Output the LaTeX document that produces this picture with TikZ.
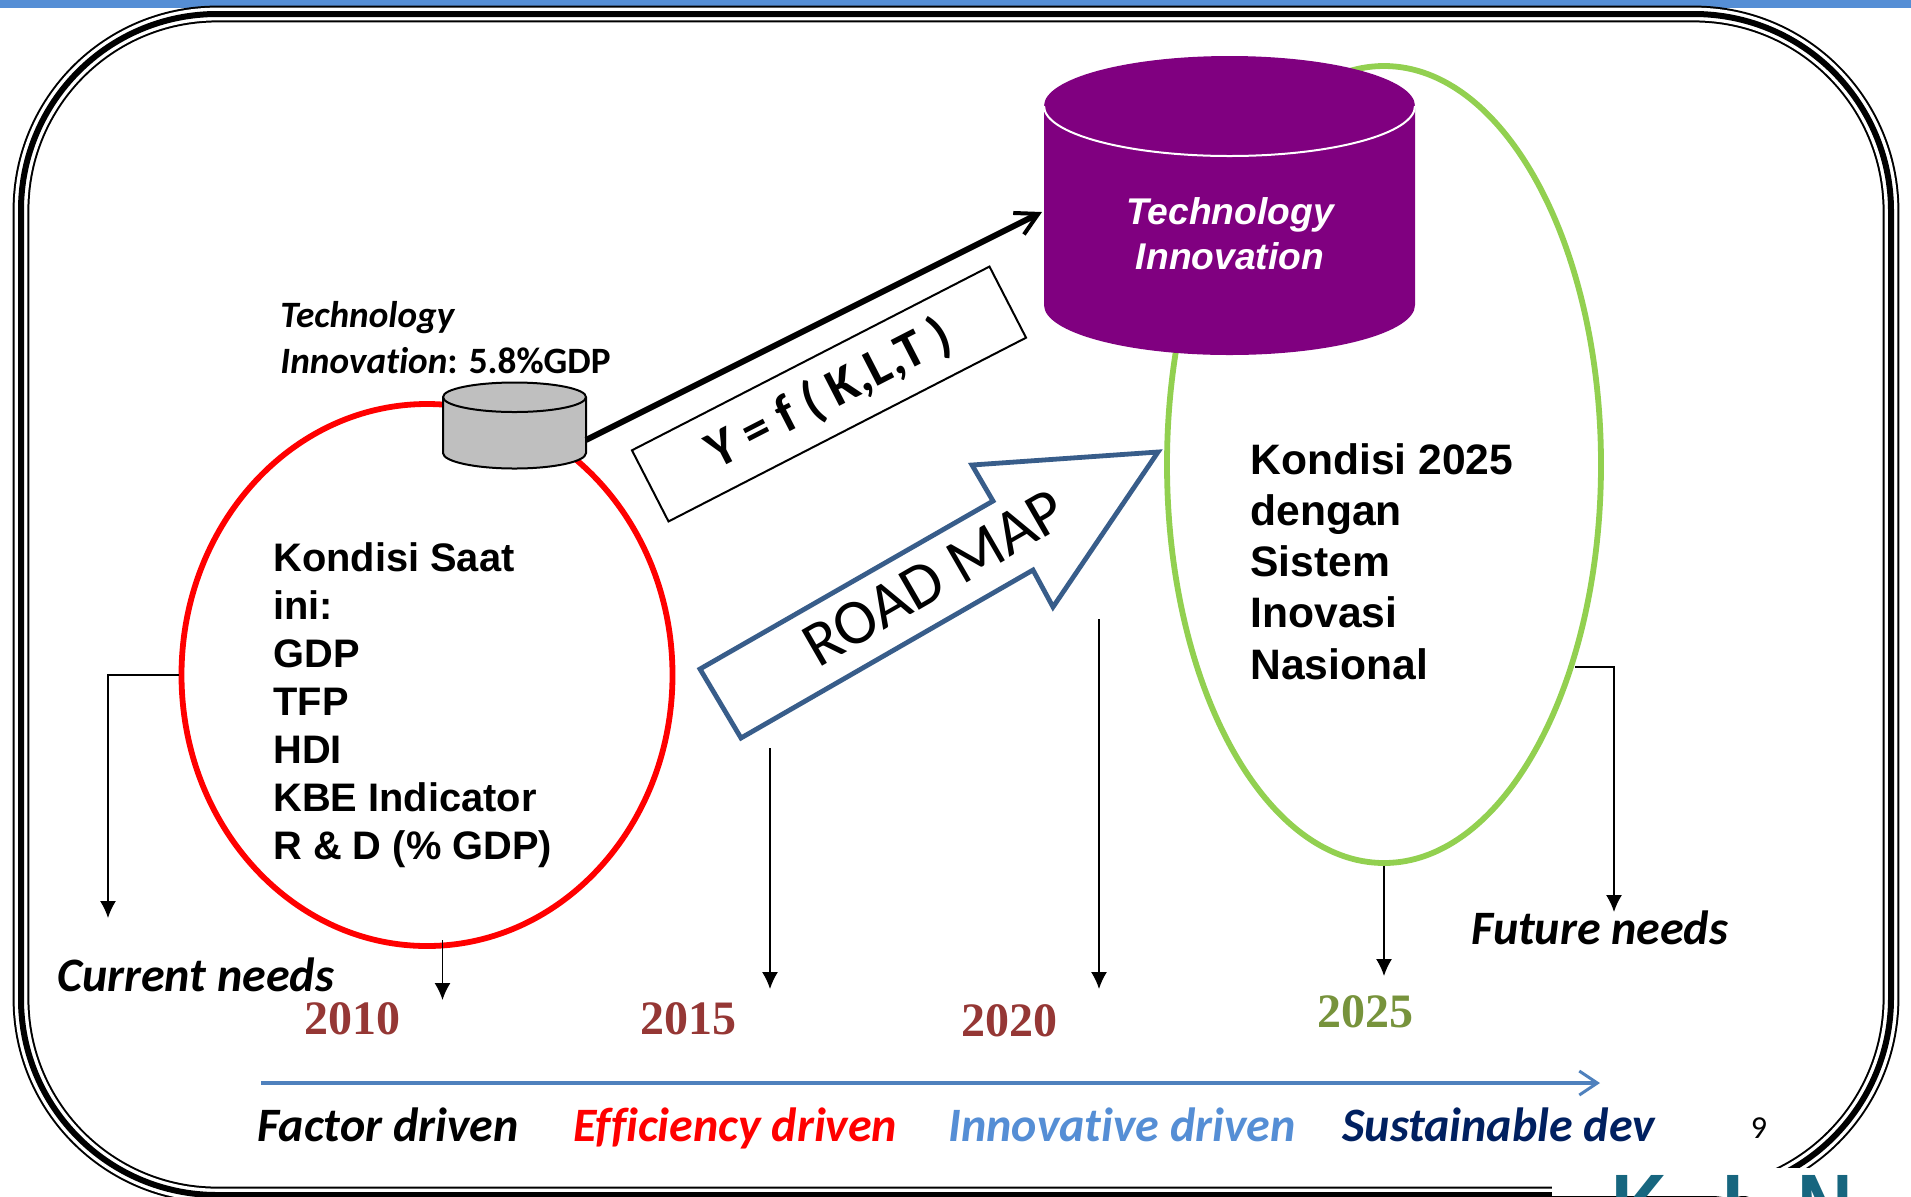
\documentclass[tikz,border=0pt]{standalone}
\usepackage{graphicx}
\usepackage{fontspec}
\setmainfont{Carlito}[Ligatures=NoCommon]
\newfontfamily\arialf{Liberation Sans}
\newfontfamily\timesf{Liberation Serif}
\usetikzlibrary{shapes.geometric,arrows.meta}
\definecolor{barblue}{HTML}{558ED5}
\definecolor{linkblue}{HTML}{4F81BD}
\definecolor{navyt}{HTML}{002060}
\definecolor{leaf}{HTML}{92D050}
\definecolor{plum}{HTML}{800080}
\definecolor{roadb}{HTML}{385D8A}
\definecolor{yearred}{HTML}{953735}
\definecolor{yeargreen}{HTML}{77933C}
\definecolor{logoteal}{HTML}{17667F}
\tikzset{
  x=0.5pt,y=-0.5pt,
  thinlink/.style={draw=black,line width=0.8pt,-{Latex[length=8.5pt,width=8pt]}},
  needs/.style={font=\fontsize{24}{28}\selectfont\bfseries\itshape,inner sep=0pt,anchor=base west},
  driver/.style={font=\fontsize{24}{28}\selectfont\bfseries\itshape,inner sep=0pt,anchor=base west},
  year/.style={font=\timesf\fontsize{24}{28}\selectfont\bfseries,inner sep=0pt},
  kondisi/.style={font=\arialf\fontsize{19.9}{24}\selectfont\bfseries,align=left,inner sep=0pt},
  kondisib/.style={font=\arialf\fontsize{21.3}{25.6}\selectfont\bfseries,align=left,inner sep=0pt},
  logoletter/.style={font=\arialf\fontsize{48}{52}\selectfont\bfseries,text=logoteal,inner sep=0pt,anchor=north west},
}
\begin{document}
\begin{tikzpicture}
\useasboundingbox (0,0) rectangle (1911,1196);
\fill[white] (0,0) rectangle (1911,1196);
\fill[barblue] (0,0) rectangle (1911,8);
% triple frame
\begin{scope}
\clip (0,0) rectangle (1911,1196);
\def\framep{(21,210) arc[start angle=180,end angle=270,radius=196] -- (1694,14) arc[start angle=270,end angle=360,radius=197] -- (1891,998) arc[start angle=0,end angle=90,radius=197] -- (217,1195) arc[start angle=90,end angle=180,radius=196] -- cycle}
\draw[line width=8.4pt,black] \framep;
\draw[line width=6.4pt,white] \framep;
\draw[line width=3pt,black] \framep;
\end{scope}
% logo patch
\fill[white] (1552,1168) rectangle (1878,1196);
\begin{scope}
\clip (1600,1170) rectangle (1878,1196);
\node[logoletter] (logok) at (1611,1175) {\scalebox{0.8}[1]{K}};
\node[logoletter] (logoi) at (1722,1175) {\scalebox{0.8}[1]{I}};
\node[logoletter] (logon) at (1797,1175) {\scalebox{0.8}[1]{N}};
\end{scope}
% green ellipse then big cylinder
\node[ellipse,draw=leaf,line width=2.9pt,minimum width=217pt,minimum height=398.5pt,inner sep=0pt] (green) at (1384,464.5) {};
\fill[plum] (1044,106) arc[start angle=180,end angle=360,x radius=185.5,y radius=50] -- (1415,305) arc[start angle=0,end angle=180,x radius=185.5,y radius=50] -- cycle;
\draw[white,line width=1pt] (1044,106) arc[start angle=180,end angle=0,x radius=185.5,y radius=50];
\coordinate (bigcyl) at (1042,212);
\node[font=\arialf\fontsize{18.6}{22}\selectfont\bfseries\itshape,text=white,align=center,inner sep=0pt] (bigtext) at (1230,234) {Technology\\[0.02em]Innovation};
% red ellipse, small cylinder
\node[ellipse,draw=red,line width=2.9pt,minimum width=245.5pt,minimum height=271pt,inner sep=0pt] (redo) at (427,675) {};
\filldraw[fill=black!25,draw=black,line width=1pt] (443,397) arc[start angle=180,end angle=360,x radius=71.5,y radius=14.5] -- (586,453) arc[start angle=0,end angle=180,x radius=71.5,y radius=15.5] -- cycle;
\draw[black,line width=1pt] (443,397) arc[start angle=180,end angle=0,x radius=71.5,y radius=15];
\coordinate (smallcyl) at (586,440);
\draw[line width=3pt,black,-{Straight Barb[length=11pt,width=12pt,line width=2pt]}] (smallcyl) -- (bigcyl);
% formula box
\node[draw=black,line width=1pt,fill=white,rotate=27.2,minimum width=201pt,minimum height=40pt,inner sep=0pt,font=\fontsize{26.6}{30}\selectfont\bfseries] (formula) at (829,394) {Y = f ( K,L,T )};
% road map arrow
\filldraw[fill=white,draw=roadb,line width=2.4pt,line join=miter] (700,669) -- (741,738) -- (1033,570) -- (1053,607) -- (1158,452) -- (972,465) -- (993,501) -- cycle;
\node[rotate=30,font=\fontsize{32}{36}\selectfont,inner sep=0pt] (road) at (934,578) {ROAD MAP};
% labels
\node[anchor=base west,font=\fontsize{18.6}{22}\selectfont,inner sep=0pt] (smalla) at (280,327) {\bfseries\itshape Technology};
\node[anchor=base west,font=\fontsize{18.6}{22}\selectfont,inner sep=0pt] (smallb) at (280,373) {\bfseries\itshape Innovation\upshape: 5.8\%GDP};
\node[kondisi,anchor=north west] (know) at (273,542) {Kondisi Saat\\ini:\\GDP\\TFP\\HDI\\KBE Indicator\\R \& D (\% GDP)};
\node[kondisib,anchor=north west] (kfut) at (1250,443) {Kondisi 2025\\dengan\\Sistem\\Inovasi\\Nasional};
\node[needs] (cneeds) at (57,991) {Current needs};
\node[needs] (fneeds) at (1471,944) {Future needs};
\node[year,text=yearred] (y10) at (352,1019) {2010};
\node[year,text=yearred] (y15) at (688.5,1019) {2015};
\node[year,text=yearred] (y20) at (1009,1021) {2020};
\node[year,text=yeargreen] (y25) at (1365,1012) {2025};
\node[driver] (d1) at (257,1141) {Factor driven};
\node[driver,text=red] (d2) at (573,1141) {Efficiency driven};
\node[driver,text=barblue] (d3) at (948,1141) {Innovative driven};
\node[driver,text=navyt] (d4) at (1342,1141) {Sustainable dev};
\node[font=\fontsize{16}{18}\selectfont,inner sep=0pt] (pnum) at (1759,1128) {9};
% free ends of the connectors
\coordinate (t1) at (108,918);
\coordinate (c1) at (108,675);
\coordinate (s2) at (442.5,940);
\coordinate (t2) at (442.5,1000);
\coordinate (s3) at (770,748);
\coordinate (t3) at (770,989);
\coordinate (s4) at (1099,619);
\coordinate (t4) at (1099,989);
\coordinate (t5) at (1384,976);
\coordinate (s6) at (1575,667);
\coordinate (c6) at (1614,667);
\coordinate (t6) at (1614,912);
\coordinate (a0) at (261,1083);
\coordinate (a1) at (1600,1083);
\draw[thinlink] (redo.west) -- (c1) -- (t1);
\draw[thinlink] (s2) -- (t2);
\draw[thinlink] (s3) -- (t3);
\draw[thinlink] (s4) -- (t4);
\draw[thinlink] (green.south) -- (t5);
\draw[thinlink] (s6) -- (c6) -- (t6);
\draw[linkblue,line width=2pt,-{Straight Barb[length=9pt,width=12pt,line width=1.5pt]}] (a0) -- (a1);
\end{tikzpicture}
\end{document}
